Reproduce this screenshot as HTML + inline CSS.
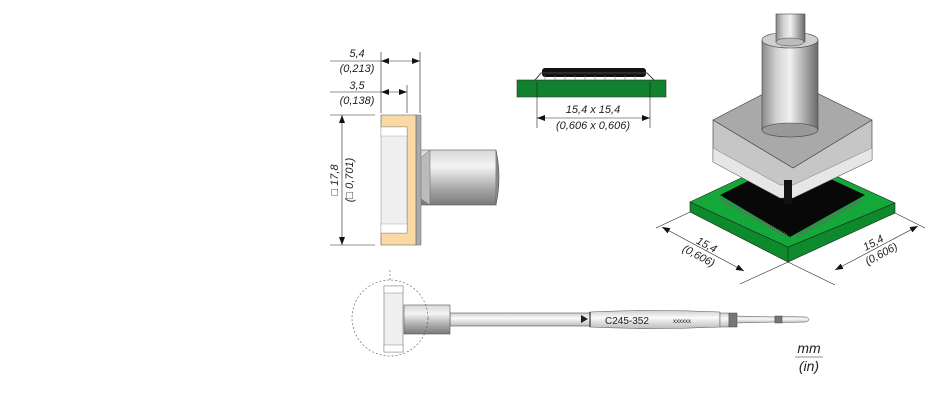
<!DOCTYPE html>
<html><head><meta charset="utf-8"><style>
html,body{margin:0;padding:0;background:#fff;}
svg text{font-family:"Liberation Sans",sans-serif;font-style:italic;fill:#222;}
</style></head><body>
<svg width="930" height="400" viewBox="0 0 930 400" xmlns="http://www.w3.org/2000/svg">
<defs>
<linearGradient id="cylV" x1="0" y1="0" x2="0" y2="1">
<stop offset="0" stop-color="#d8d8d8"/><stop offset="0.3" stop-color="#f4f4f4"/><stop offset="0.7" stop-color="#a8a8a8"/><stop offset="1" stop-color="#7a7a7a"/></linearGradient>
<linearGradient id="cylH" x1="0" y1="0" x2="1" y2="0">
<stop offset="0" stop-color="#8a8a8a"/><stop offset="0.25" stop-color="#d0d0d0"/><stop offset="0.5" stop-color="#f0f0f0"/><stop offset="0.8" stop-color="#a0a0a0"/><stop offset="1" stop-color="#6a6a6a"/></linearGradient>
<linearGradient id="shaft" x1="0" y1="0" x2="0" y2="1">
<stop offset="0" stop-color="#cfcfcf"/><stop offset="0.4" stop-color="#fafafa"/><stop offset="1" stop-color="#bdbdbd"/></linearGradient>
<marker id="ar" markerWidth="8" markerHeight="6" refX="8" refY="3" orient="auto" markerUnits="userSpaceOnUse"><path d="M0,0 L8,3 L0,6z" fill="#111"/></marker>
<marker id="al" markerWidth="8" markerHeight="6" refX="0" refY="3" orient="auto" markerUnits="userSpaceOnUse"><path d="M8,0 L0,3 L8,6z" fill="#111"/></marker>
</defs>
<g stroke="#222" stroke-width="0.6" fill="none">
<!-- side view dims -->
<line x1="381" y1="52" x2="381" y2="113"/><line x1="420" y1="52" x2="420" y2="113"/><line x1="407" y1="85" x2="407" y2="113"/>
<line x1="330" y1="61" x2="381" y2="61"/>
<line x1="381" y1="61" x2="420" y2="61" marker-start="url(#al)" marker-end="url(#ar)"/>
<line x1="330" y1="92" x2="381" y2="92"/>
<line x1="381" y1="92" x2="407" y2="92" marker-start="url(#al)" marker-end="url(#ar)"/>
<line x1="330" y1="115" x2="375" y2="115"/><line x1="330" y1="245" x2="375" y2="245"/>
<line x1="342" y1="115" x2="342" y2="245" marker-start="url(#al)" marker-end="url(#ar)"/>
</g>
<text x="357" y="57" font-size="11" text-anchor="middle">5,4</text>
<text x="357" y="72" font-size="11" text-anchor="middle">(0,213)</text>
<text x="357" y="89" font-size="11" text-anchor="middle">3,5</text>
<text x="357" y="104" font-size="11" text-anchor="middle">(0,138)</text>
<text transform="translate(338,180) rotate(-90)" font-size="11" text-anchor="middle">□ 17,8</text>
<text transform="translate(353,180) rotate(-90)" font-size="11" text-anchor="middle">(□ 0,701)</text>
<!-- side view body -->
<rect x="420" y="150" width="76" height="55" fill="url(#cylV)" stroke="#555" stroke-width="0.6"/>
<path d="M496,150 Q502,177 496,205" fill="#888" stroke="#555" stroke-width="0.6"/>
<path d="M418,160 L430,150 L430,205 L418,197z" fill="#bbb" stroke="#666" stroke-width="0.5"/>
<rect x="415" y="115" width="6" height="130" fill="#aaa" stroke="#666" stroke-width="0.5"/>
<path d="M381,115 H416 V245 H381 V233 H407 V127 H381z" fill="#fad9a5" stroke="#555" stroke-width="0.6"/>
<rect x="381" y="127" width="26" height="106" fill="#efefef" stroke="#888" stroke-width="0.5"/>
<rect x="381" y="127" width="26" height="9" fill="#fff" stroke="#999" stroke-width="0.4"/>
<rect x="381" y="224" width="26" height="9" fill="#fff" stroke="#999" stroke-width="0.4"/>
<!-- top small view -->
<rect x="517" y="80" width="149" height="17" fill="#11802f" stroke="#333" stroke-width="0.6"/>
<rect x="542" y="68" width="104" height="9" rx="3" fill="#111"/>
<path d="M535,80 L541,73 L647,73 L654,80" fill="none" stroke="#444" stroke-width="1"/>
<g stroke="#666" stroke-width="0.5">
<line x1="545" y1="75" x2="545" y2="80"/><line x1="555" y1="75" x2="555" y2="80"/><line x1="565" y1="75" x2="565" y2="80"/><line x1="575" y1="75" x2="575" y2="80"/><line x1="585" y1="75" x2="585" y2="80"/><line x1="595" y1="75" x2="595" y2="80"/><line x1="605" y1="75" x2="605" y2="80"/><line x1="615" y1="75" x2="615" y2="80"/><line x1="625" y1="75" x2="625" y2="80"/><line x1="635" y1="75" x2="635" y2="80"/>
</g>
<g stroke="#222" stroke-width="0.6" fill="none">
<line x1="537" y1="82" x2="537" y2="128"/><line x1="650" y1="82" x2="650" y2="128"/>
<line x1="537" y1="118" x2="650" y2="118" marker-start="url(#al)" marker-end="url(#ar)"/>
</g>
<text x="593" y="113" font-size="11" text-anchor="middle">15,4 x 15,4</text>
<text x="593" y="129" font-size="11" text-anchor="middle">(0,606 x 0,606)</text>
<!-- iso view -->
<path d="M690,202 L788,247 L895,203 L895,213 L788,262 L690,212z" fill="#0d8a2c" stroke="#222" stroke-width="0.6"/>
<path d="M690,202 L790,155 L895,203 L788,247z" fill="#14a83a" stroke="#222" stroke-width="0.6"/>
<line x1="788" y1="247" x2="788" y2="262" stroke="#222" stroke-width="0.6"/>
<path d="M720,195 L790,160 L865,195 L790,237z" fill="#080808"/>
<path d="M722,200 L787,236" stroke="#666" stroke-width="4" stroke-dasharray="1 1.5"/>
<path d="M797,236 L862,200" stroke="#666" stroke-width="4" stroke-dasharray="1 1.5"/>
<path d="M713,120 L713,162 L780,198 L780,188 L793,188 L793,198 L872,160 L872,120z" fill="#c6c6c6" stroke="#333" stroke-width="0.6"/>
<path d="M713,148 L780,185 L793,185 L872,148 L872,160 L793,198 L780,198 L713,162z" fill="#e6e6e6" stroke="#666" stroke-width="0.4"/>
<rect x="784" y="180" width="8" height="24" fill="#111"/>
<path d="M713,120 L790,80 L872,120 L793,168z" fill="#a9a9a9" stroke="#333" stroke-width="0.6"/>
<rect x="762" y="40" width="56" height="90" fill="url(#cylH)" stroke="#444" stroke-width="0.6"/>
<ellipse cx="790" cy="130" rx="28" ry="7" fill="#999" stroke="#444" stroke-width="0.6"/>
<ellipse cx="790" cy="40" rx="28" ry="8" fill="#cfcfcf" stroke="#444" stroke-width="0.6"/>
<rect x="776" y="14" width="29" height="28" fill="url(#cylH)" stroke="#444" stroke-width="0.6"/>
<ellipse cx="790" cy="42" rx="14" ry="4" fill="#bbb" stroke="#444" stroke-width="0.5"/>
<g stroke="#222" stroke-width="0.6" fill="none">
<line x1="690" y1="212" x2="656" y2="228"/><line x1="788" y1="262" x2="740" y2="284"/>
<line x1="662" y1="227" x2="744" y2="271" marker-start="url(#al)" marker-end="url(#ar)"/>
<line x1="895" y1="213" x2="925" y2="228"/><line x1="788" y1="262" x2="835" y2="285"/>
<line x1="835" y1="270" x2="918" y2="226" marker-start="url(#al)" marker-end="url(#ar)"/>
</g>
<text transform="translate(705,248) rotate(28)" font-size="11" text-anchor="middle">15,4</text>
<text transform="translate(697,259) rotate(28)" font-size="11" text-anchor="middle">(0,606)</text>
<text transform="translate(875,246) rotate(-28)" font-size="11" text-anchor="middle">15,4</text>
<text transform="translate(883,257) rotate(-28)" font-size="11" text-anchor="middle">(0,606)</text>
<!-- bottom view -->
<line x1="390" y1="270" x2="390" y2="281" stroke="#555" stroke-width="0.6" stroke-dasharray="2 2"/>
<rect x="450" y="313" width="140" height="13" fill="url(#shaft)" stroke="#555" stroke-width="0.6"/>
<path d="M590,312 Q655,309 720,312 L720,327 Q655,330 590,327z" fill="url(#shaft)" stroke="#555" stroke-width="0.6"/>
<rect x="720" y="313" width="9" height="14" fill="url(#shaft)" stroke="#555" stroke-width="0.5"/>
<rect x="729" y="313" width="8" height="14" fill="#777" stroke="#444" stroke-width="0.5"/>
<path d="M737,316 L775,317 L775,322 L737,323z" fill="url(#shaft)" stroke="#555" stroke-width="0.5"/>
<rect x="775" y="316" width="7" height="7" fill="#777" stroke="#444" stroke-width="0.5"/>
<path d="M782,316.5 L806,317 Q812,319.5 806,322 L782,322.5z" fill="url(#shaft)" stroke="#555" stroke-width="0.5"/>
<path d="M581,315 L588,319 L581,323z" fill="#222"/>
<line x1="590" y1="312" x2="590" y2="327" stroke="#111" stroke-width="1"/>
<text x="605" y="324" font-size="10" style="font-style:normal">C245-352</text>
<text x="673" y="323" font-size="6" style="font-style:normal" fill="#555">xxxxxx</text>
<rect x="404" y="305" width="46" height="29" fill="url(#cylV)" stroke="#555" stroke-width="0.6"/>
<rect x="384" y="286" width="19" height="66" fill="#efefef" stroke="#777" stroke-width="0.6"/>
<rect x="384" y="286" width="19" height="7" fill="#fff" stroke="#888" stroke-width="0.5"/>
<rect x="384" y="345" width="19" height="7" fill="#fff" stroke="#888" stroke-width="0.5"/>
<circle cx="390" cy="318" r="38" fill="none" stroke="#555" stroke-width="0.6" stroke-dasharray="2 2"/>
<text x="809" y="353" font-size="14" text-anchor="middle">mm</text>
<line x1="795" y1="357" x2="823" y2="357" stroke="#222" stroke-width="0.6"/>
<text x="809" y="371" font-size="14" text-anchor="middle">(in)</text>
</svg>
</body></html>
